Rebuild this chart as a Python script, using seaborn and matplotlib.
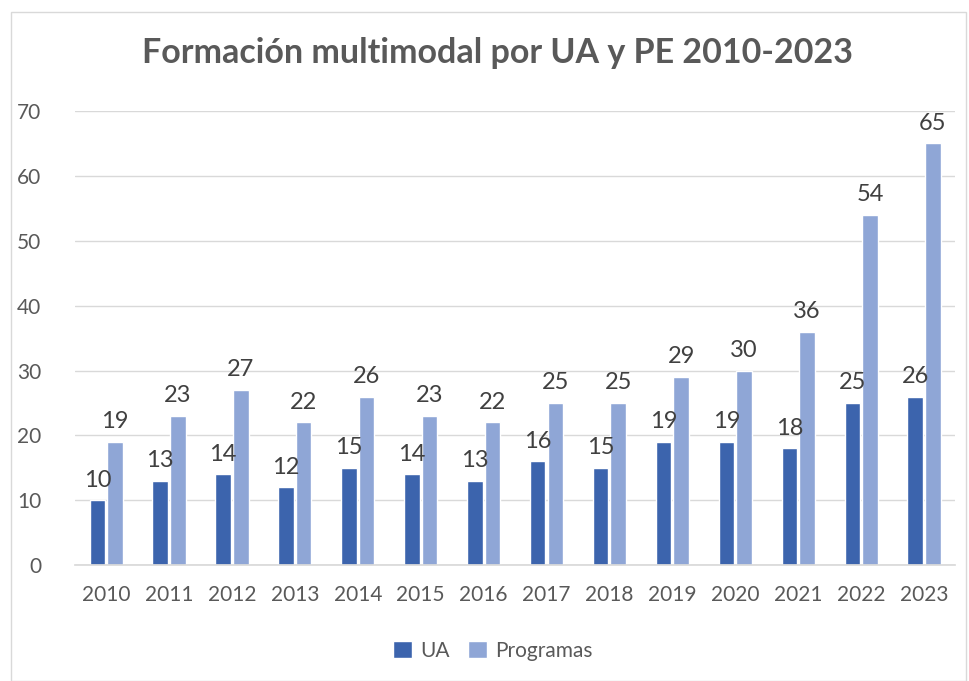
import numpy as np
import pandas as pd
import matplotlib
matplotlib.use("Agg")
import matplotlib.pyplot as plt
import seaborn as sns
from matplotlib.patches import Rectangle

# Data
years = ["2010", "2011", "2012", "2013", "2014", "2015", "2016",
         "2017", "2018", "2019", "2020", "2021", "2022", "2023"]
ua = [10, 13, 14, 12, 15, 14, 13, 16, 15, 19, 19, 18, 25, 26]
programas = [19, 23, 27, 22, 26, 23, 22, 25, 25, 29, 30, 36, 54, 65]
series_names = ["UA", "Programas"]
colors = ["#3C64AD", "#8FA6D6"]

df = pd.DataFrame({
    "year": years * 2,
    "value": ua + programas,
    "serie": [series_names[0]] * len(years) + [series_names[1]] * len(years),
})

sns.set_theme(style="white")
plt.rcParams["font.family"] = ["Lato", "DejaVu Sans"]

fig = plt.figure(figsize=(9.7, 6.81), dpi=100)
ax = fig.add_axes([0.077, 0.170, 0.908, 0.667])

sns.barplot(data=df, x="year", y="value", hue="serie", palette=colors,
            saturation=1, width=0.56, gap=0.12, ax=ax, legend=True)

# Data labels
for cont in ax.containers:
    ax.bar_label(cont, fontsize=17, color="#404040", padding=7)

ax.set_ylim(0, 70)
ax.set_yticks(range(0, 71, 10))
ax.set_xlim(-0.5, len(years) - 0.5)
ax.grid(axis="y", color="#D9D9D9", linewidth=1)
ax.set_axisbelow(True)
for s in ["top", "right", "left"]:
    ax.spines[s].set_visible(False)
ax.spines["bottom"].set_color("#D9D9D9")
ax.tick_params(axis="both", colors="#595959", labelsize=15, length=0)
ax.tick_params(axis="y", pad=24)
ax.tick_params(axis="x", pad=14)
ax.set_xlabel("")
ax.set_ylabel("")

fig.suptitle("Formación multimodal por UA y PE 2010-2023", fontsize=24.5,
             fontweight="bold", color="#595959", x=0.513, y=0.945)

leg = ax.legend(loc="upper center", bbox_to_anchor=(0.475, -0.125), ncol=2,
                frameon=False, fontsize=15, handlelength=0.9, handleheight=0.9,
                columnspacing=0.9, handletextpad=0.4)
for t in leg.get_texts():
    t.set_color("#595959")

# chart border
fig.patches.append(Rectangle((0.011, 0.0), 0.985, 0.982, transform=fig.transFigure,
                             fill=False, edgecolor="#D9D9D9", linewidth=1))

fig.savefig("out.png", dpi=100)
